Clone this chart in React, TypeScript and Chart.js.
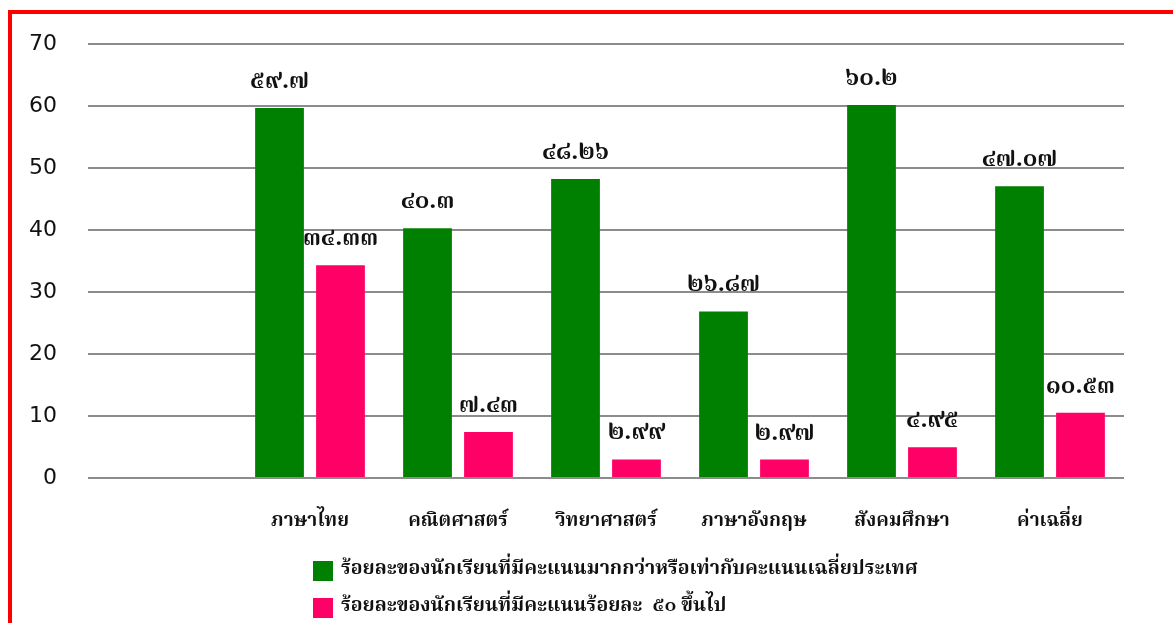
import React, { useEffect, useRef } from "react";
import { Chart, registerables } from "chart.js";

Chart.register(...registerables);

const categories = ["", "ภาษาไทย", "คณิตศาสตร์", "วิทยาศาสตร์", "ภาษาอังกฤษ", "สังคมศึกษา", "ค่าเฉลี่ย"];
const aboveAverage = [null, 59.7, 40.3, 48.26, 26.87, 60.2, 47.07];
const above50 = [null, 34.33, 7.43, 2.99, 2.97, 4.95, 10.53];
const seriesNames = [
  "ร้อยละของนักเรียนที่มีคะแนนมากกว่าหรือเท่ากับคะแนนเฉลี่ยประเทศ",
  "ร้อยละของนักเรียนที่มีคะแนนร้อยละ  ๕๐ ขึ้นไป",
];
const seriesColors = ["#008000", "#FF0066"];

const THAI_FONT = '"Noto Serif Thai", "Noto Sans Thai", "Angsana New", "TH Sarabun New", Norasi, Garuda, Loma, "DejaVu Serif", serif';
const thaiDigits = "๐๑๒๓๔๕๖๗๘๙";
const toThai = (v: number) => String(v).replace(/[0-9]/g, (d) => thaiDigits[Number(d)]);

const labelPlugin = {
  id: "thaiLabels",
  afterDatasetsDraw(chart: any) {
    const ctx = chart.ctx;
    ctx.save();
    ctx.font = `bold 24px ${THAI_FONT}`;
    ctx.fillStyle = "#111";
    ctx.textAlign = "center";
    ctx.textBaseline = "middle";
    chart.data.datasets.forEach((ds: any, i: number) => {
      const meta = chart.getDatasetMeta(i);
      meta.data.forEach((el: any, j: number) => {
        const v = ds.data[j];
        if (v == null) return;
        ctx.fillText(toThai(v), el.x, el.y - 24);
      });
    });
    ctx.restore();
  },
};

const legendPlugin = {
  id: "customLegend",
  afterDraw(chart: any) {
    const ctx = chart.ctx;
    ctx.save();
    ctx.font = `bold 19.5px ${THAI_FONT}`;
    ctx.textAlign = "left";
    ctx.textBaseline = "middle";
    chart.data.datasets.forEach((ds: any, i: number) => {
      const y = 571 + i * 37;
      ctx.fillStyle = ds.backgroundColor;
      ctx.fillRect(313, y - 10, 20, 20);
      ctx.fillStyle = "#111";
      ctx.fillText(ds.label, 341, y);
    });
    ctx.restore();
  },
};

export default function App() {
  const ref = useRef<HTMLCanvasElement | null>(null);
  useEffect(() => {
    if (!ref.current) return;
    const chart = new Chart(ref.current, {
      type: "bar",
      data: {
        labels: categories,
        datasets: [
          { label: seriesNames[0], data: aboveAverage, backgroundColor: seriesColors[0] },
          { label: seriesNames[1], data: above50, backgroundColor: seriesColors[1] },
        ],
      },
      options: {
        responsive: false,
        animation: false,
        devicePixelRatio: 1,
        layout: { padding: { left: 0, right: 49, top: 44, bottom: 0 } },
        datasets: { bar: { categoryPercentage: 0.824, barPercentage: 0.8 } },
        plugins: { legend: { display: false }, tooltip: { enabled: false } },
        scales: {
          x: {
            grid: { display: false, drawTicks: false },
            border: { display: false },
            ticks: {
              color: "#111",
              font: { family: THAI_FONT, size: 19, weight: "bold" },
              padding: 33,
              maxRotation: 0,
              autoSkip: false,
            },
            afterFit(scale: any) {
              scale.height = 145;
            },
          },
          y: {
            min: 0,
            max: 70,
            ticks: {
              stepSize: 10,
              color: "#111",
              font: { family: '"DejaVu Sans", Verdana, sans-serif', size: 22 },
              padding: 31,
            },
            grid: { color: "#8c8c8c", lineWidth: 2, drawTicks: false },
            border: { display: false },
            afterFit(scale: any) {
              scale.width = 88;
            },
          },
        },
      },
      plugins: [labelPlugin, legendPlugin],
    });
    return () => chart.destroy();
  }, []);

  return (
    <div style={{ position: "fixed", left: 0, top: 0, width: 1173, height: 623, overflow: "hidden", background: "#fff" }}>
      <div
        style={{
          position: "absolute",
          left: 8,
          top: 10,
          width: 1300,
          height: 800,
          border: "4px solid #ff0000",
          boxSizing: "border-box",
        }}
      />
      <canvas ref={ref} width={1173} height={623} style={{ position: "absolute", left: 0, top: 0 }} />
    </div>
  );
}
